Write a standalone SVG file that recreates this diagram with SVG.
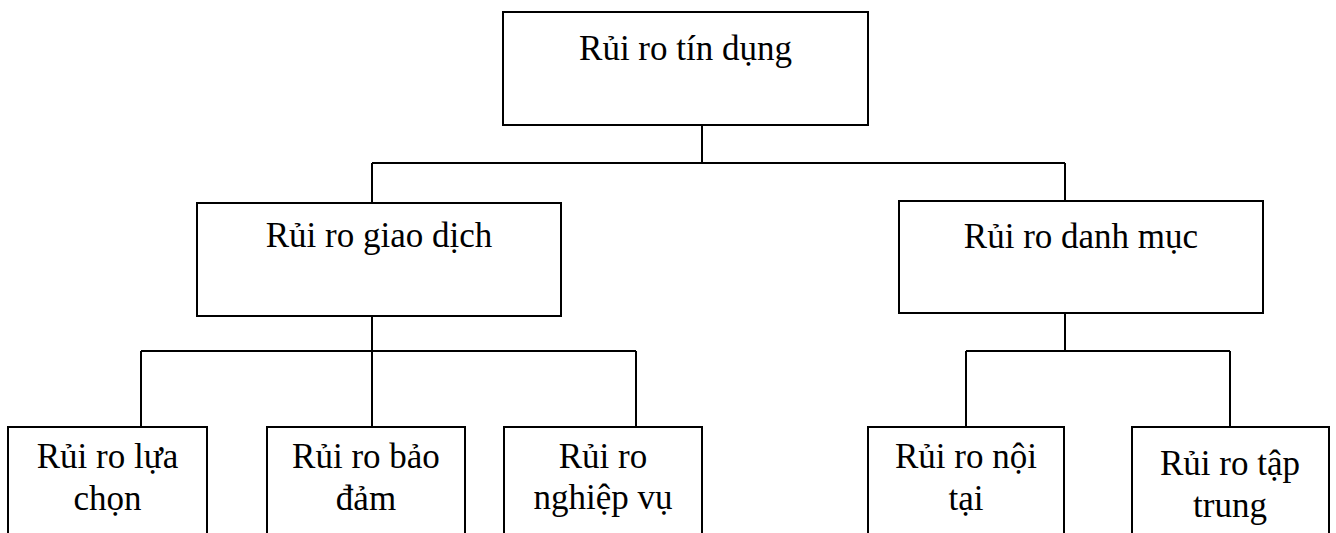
<svg xmlns="http://www.w3.org/2000/svg" width="1336" height="533" viewBox="0 0 1336 533">
  <style>
    .box { fill: #ffffff; stroke: #000000; stroke-width: 2; }
    .link { fill: none; stroke: #000000; stroke-width: 2; }
    .label { font-family: "Liberation Serif", "Times New Roman", serif; font-size: 35px; fill: #000000; text-anchor: middle; }
  </style>
  <rect width="1336" height="533" fill="#ffffff"/>

  <!-- connectors -->
  <g id="connectors">
    <path class="link" d="M702 125 V163"/>
    <path class="link" d="M372 163 H1065"/>
    <path class="link" d="M372 163 V203"/>
    <path class="link" d="M1065 163 V201"/>
    <path class="link" d="M372 313 V427"/>
    <path class="link" d="M141 351 H636"/>
    <path class="link" d="M141 351 V427"/>
    <path class="link" d="M636 351 V427"/>
    <path class="link" d="M1065 313 V351"/>
    <path class="link" d="M966 351 H1230"/>
    <path class="link" d="M966 351 V427"/>
    <path class="link" d="M1230 351 V427"/>
  </g>

  <!-- level 0 -->
  <g id="tin-dung">
    <rect class="box" x="503" y="12" width="365" height="113"/>
    <text class="label" x="685.5" y="60">Rủi ro tín dụng</text>
  </g>

  <!-- level 1 -->
  <g id="giao-dich">
    <rect class="box" x="197" y="203" width="364" height="113"/>
    <text class="label" x="379" y="247">Rủi ro giao dịch</text>
  </g>
  <g id="danh-muc">
    <rect class="box" x="899" y="201" width="364" height="112"/>
    <text class="label" x="1081" y="248">Rủi ro danh mục</text>
  </g>

  <!-- level 2 (boxes run past the lower edge) -->
  <g id="lua-chon">
    <rect class="box" x="8" y="427" width="199" height="120"/>
    <text class="label" x="107.5" y="468">Rủi ro lựa</text>
    <text class="label" x="107.5" y="510">chọn</text>
  </g>
  <g id="bao-dam">
    <rect class="box" x="267" y="427" width="198" height="120"/>
    <text class="label" x="366" y="468">Rủi ro bảo</text>
    <text class="label" x="366" y="510">đảm</text>
  </g>
  <g id="nghiep-vu">
    <rect class="box" x="504" y="427" width="198" height="120"/>
    <text class="label" x="603" y="468">Rủi ro</text>
    <text class="label" x="603" y="509">nghiệp vụ</text>
  </g>
  <g id="noi-tai">
    <rect class="box" x="868" y="427" width="196" height="120"/>
    <text class="label" x="966" y="468">Rủi ro nội</text>
    <text class="label" x="966" y="510">tại</text>
  </g>
  <g id="tap-trung">
    <rect class="box" x="1132" y="427" width="197" height="120"/>
    <text class="label" x="1230" y="475">Rủi ro tập</text>
    <text class="label" x="1230" y="517">trung</text>
  </g>
</svg>
